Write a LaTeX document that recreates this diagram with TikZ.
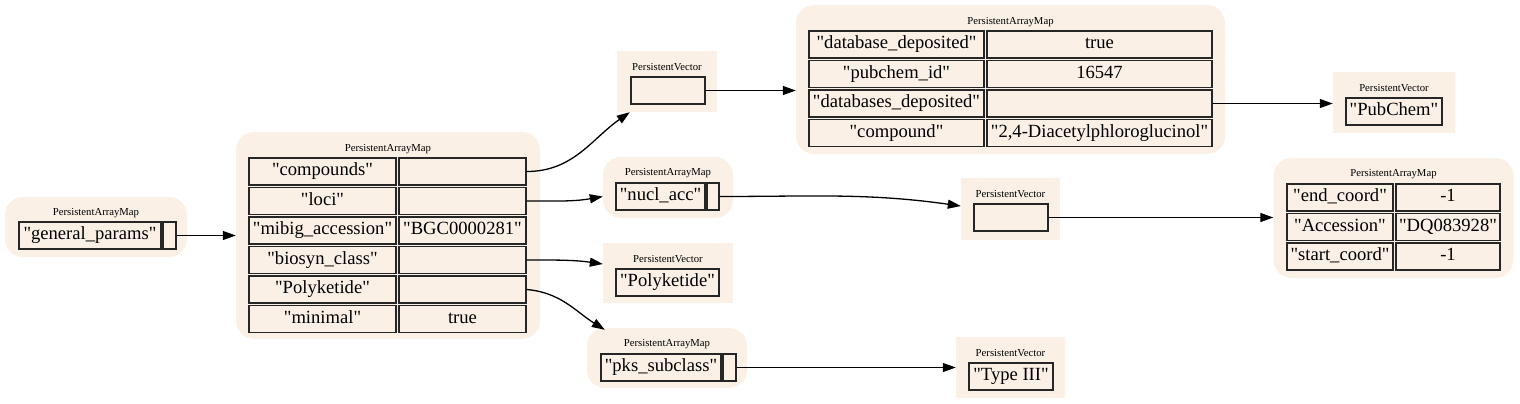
\documentclass[tikz,border=0pt]{standalone}
\usepackage{fontspec}
\setmainfont{Liberation Serif}[Ligatures=TeXOff]
\usetikzlibrary{arrows.meta,calc}
\definecolor{linen}{HTML}{FAF0E6}
\tikzset{
  clmap/.style={rectangle, rounded corners=18pt, fill=linen, draw=none, inner sep=0pt},
  clvec/.style={rectangle, fill=linen, draw=none, inner sep=0pt},
  cell/.style={rectangle, draw=black!85, line width=1.3pt, fill=linen, inner sep=0pt,
    minimum height=27pt, text height=12.6pt, text depth=4.2pt,
    font=\fontsize{18.6}{20}\selectfont},
  lbl/.style={font=\fontsize{10.7}{12}\selectfont, inner sep=0pt},
  ln/.style={-{Triangle[length=13pt,width=9pt]}, line width=1.3pt, draw=black},
}
\begin{document}
\begin{tikzpicture}[x=1pt,y=-1pt]
  \useasboundingbox (0,0) rectangle (1520,404);
  % general_params
  \node[clmap, minimum width=182pt, minimum height=60pt] (clA) at (96,227) {};
  \node[lbl] (lA) at (96,213) {PersistentArrayMap};
  \node[cell, minimum width=142pt] (gpk) at (90,235.5) {"general\_params"};
  \node[cell, minimum width=13pt] (gpp) at (169.5,235.5) {};
  % main map
  \node[clmap, minimum width=304pt, minimum height=207pt] (clB) at (388,235.5) {};
  \node[lbl] (lB) at (388,149) {PersistentArrayMap};
  \node[cell, minimum width=147pt] (kcomp) at (322.5,171.5) {"compounds"};
  \node[cell, minimum width=127pt] (vcomp) at (462.5,171.5) {};
  \node[cell, minimum width=147pt] (kloci) at (322.5,201) {"loci"};
  \node[cell, minimum width=127pt] (vloci) at (462.5,201) {};
  \node[cell, minimum width=147pt] (kmib) at (322.5,230.5) {"mibig\_accession"};
  \node[cell, minimum width=127pt] (vmib) at (462.5,230.5) {"BGC0000281"};
  \node[cell, minimum width=147pt] (kbio) at (322.5,260) {"biosyn\_class"};
  \node[cell, minimum width=127pt] (vbio) at (462.5,260) {};
  \node[cell, minimum width=147pt] (kpoly) at (322.5,289.5) {"Polyketide"};
  \node[cell, minimum width=127pt] (vpoly) at (462.5,289.5) {};
  \node[cell, minimum width=147pt] (kmin) at (322.5,319) {"minimal"};
  \node[cell, minimum width=127pt] (vmin) at (462.5,319) {true};
  % compounds vector
  \node[clvec, minimum width=100pt, minimum height=61pt] (clC) at (667,81.5) {};
  \node[lbl] (lC) at (667,67) {PersistentVector};
  \node[cell, minimum width=74pt] (vecA) at (668,90.5) {};
  % compound map
  \node[clmap, minimum width=429pt, minimum height=149pt] (clD) at (1010.5,79.5) {};
  \node[lbl] (lD) at (1010.5,22) {PersistentArrayMap};
  \node[cell, minimum width=175pt] (kdb) at (896.5,44.5) {"database\_deposited"};
  \node[cell, minimum width=225pt] (vdb) at (1099.5,44.5) {true};
  \node[cell, minimum width=175pt] (kpub) at (896.5,74) {"pubchem\_id"};
  \node[cell, minimum width=225pt] (vpub) at (1099.5,74) {16547};
  \node[cell, minimum width=175pt] (kdbs) at (896.5,103.5) {"databases\_deposited"};
  \node[cell, minimum width=225pt] (vdbs) at (1099.5,103.5) {};
  \node[cell, minimum width=175pt] (kcpd) at (896.5,133) {"compound"};
  \node[cell, minimum width=225pt] (vcpd) at (1099.5,133) {"2,4-Diacetylphloroglucinol"};
  % PubChem vector
  \node[clvec, minimum width=122pt, minimum height=61pt] (clE) at (1394,102.5) {};
  \node[lbl] (lE) at (1394,88) {PersistentVector};
  \node[cell, minimum width=96pt] (vpc) at (1394,111.5) {"PubChem"};
  % nucl_acc map
  \node[clmap, minimum width=130pt, minimum height=61pt] (clF) at (668,187.5) {};
  \node[lbl] (lF) at (668,173.5) {PersistentArrayMap};
  \node[cell, minimum width=89pt] (nk) at (660.5,196.5) {"nucl\_acc"};
  \node[cell, minimum width=12pt] (np) at (713,196.5) {};
  % Polyketide vector
  \node[clvec, minimum width=130pt, minimum height=60pt] (clG) at (668,273) {};
  \node[lbl] (lG) at (668,259) {PersistentVector};
  \node[cell, minimum width=103pt] (vpk) at (667.5,282.5) {"Polyketide"};
  % pks_subclass map
  \node[clmap, minimum width=160pt, minimum height=60pt] (clH) at (667,358) {};
  \node[lbl] (lH) at (667,344) {PersistentArrayMap};
  \node[cell, minimum width=120pt] (pk) at (661,367.5) {"pks\_subclass"};
  \node[cell, minimum width=13pt] (pp) at (729.5,367.5) {};
  % Type III vector
  \node[clvec, minimum width=109pt, minimum height=61pt] (clI) at (1010.5,367.5) {};
  \node[lbl] (lI) at (1010.5,353) {PersistentVector};
  \node[cell, minimum width=84pt] (vt3) at (1011,376.5) {"Type III"};
  % nucl_acc vector
  \node[clvec, minimum width=99pt, minimum height=62pt] (clJ) at (1010.5,209) {};
  \node[lbl] (lJ) at (1010.5,194) {PersistentVector};
  \node[cell, minimum width=74pt] (vecB) at (1011,217.5) {};
  % coord map
  \node[clmap, minimum width=240pt, minimum height=120pt] (clK) at (1393.5,218) {};
  \node[lbl] (lK) at (1393.5,174) {PersistentArrayMap};
  \node[cell, minimum width=106pt] (kend) at (1340,197.5) {"end\_coord"};
  \node[cell, minimum width=104pt] (vend) at (1448,197.5) {-1};
  \node[cell, minimum width=106pt] (kacc) at (1340,227) {"Accession"};
  \node[cell, minimum width=104pt] (vacc) at (1448,227) {"DQ083928"};
  \node[cell, minimum width=106pt] (kstart) at (1340,256.5) {"start\_coord"};
  \node[cell, minimum width=104pt] (vstart) at (1448,256.5) {-1};
  % links
  \draw[ln] (gpp.east) -- (gpp.east -| clB.west);
  \draw[ln] (vcomp.east) to[out=0,in=215] ($(clC.south west)+(13,0)$);
  \draw[ln] (vecA.east) -- (vecA.east -| clD.west);
  \draw[ln] (vdbs.east) -- (vdbs.east -| clE.west);
  \draw[ln] (vloci.east) to[out=0,in=190] (clF.west |- nk.center);
  \draw[ln] (np.east) to[out=0,in=172] ($(clJ.west)+(0,-3)$);
  \draw[ln] (vecB.east) -- (vecB.east -| clK.west);
  \draw[ln] (vbio.east) to[out=0,in=172] ($(clG.west)+(0,-9)$);
  \draw[ln] (vpoly.east) to[out=-5,in=148] ($(clH.north west)+(18,2)$);
  \draw[ln] (pp.east) -- (pp.east -| clI.west);
\end{tikzpicture}
\end{document}
